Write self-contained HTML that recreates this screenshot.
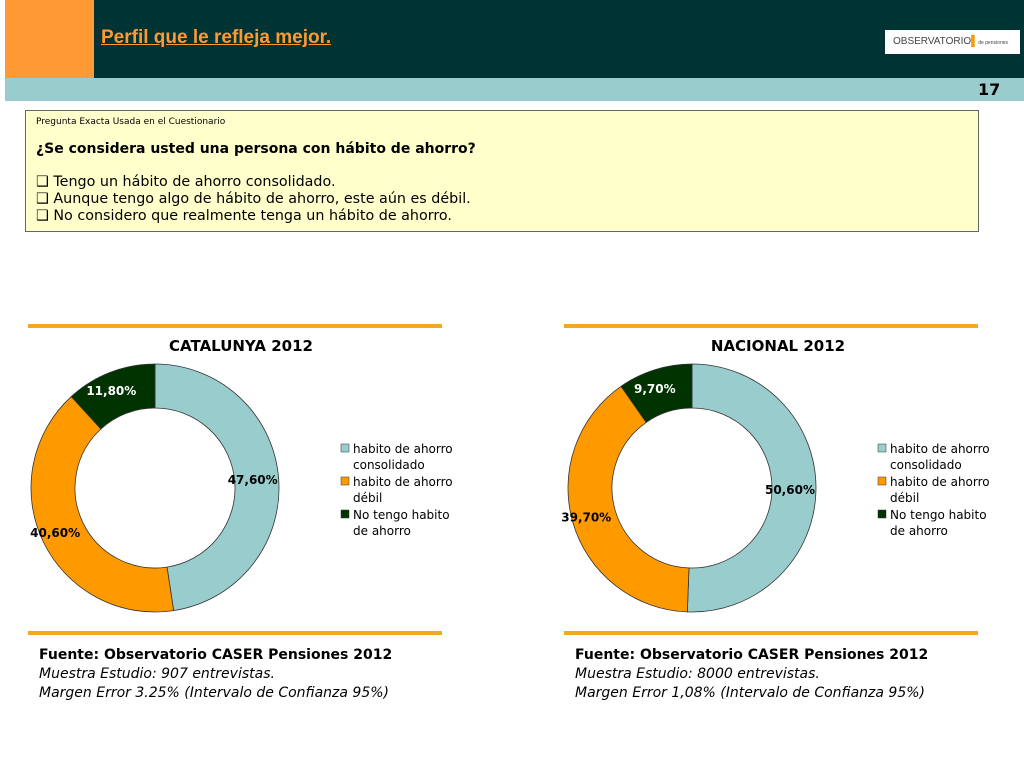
<!DOCTYPE html>
<html><head><meta charset="utf-8"><style>
body{margin:0;width:1024px;height:768px;background:#fff;position:relative;overflow:hidden;font-family:"DejaVu Sans","Liberation Sans",sans-serif;}
.abs{position:absolute;}
</style></head><body>
<div class="abs" style="left:5px;top:0;width:1019px;height:78px;background:#003333"></div>
<div class="abs" style="left:5px;top:0;width:89px;height:78px;background:#ff9933"></div>
<div class="abs" style="left:101px;top:27px;font-size:19px;font-weight:bold;color:#ff9933;text-decoration:underline;font-family:'Liberation Sans',sans-serif">Perfil que le refleja mejor.</div>
<div class="abs" style="left:885px;top:30px;width:135px;height:24px;background:#fff;font-size:10px;color:#444;line-height:24px;padding-left:8px;box-sizing:border-box;white-space:nowrap;overflow:hidden;font-family:'Liberation Sans',sans-serif">OBSERVATORIO<span style="color:#f90">▌</span><span style="font-size:5px">de pensiones</span></div>
<div class="abs" style="left:5px;top:78px;width:1019px;height:23px;background:#99cccc"></div>
<div class="abs" style="left:978px;top:80px;font-size:16px;font-weight:bold;color:#000">17</div>
<div class="abs" style="left:25px;top:110px;width:952px;height:120px;background:#ffffcc;border:1px solid #666;font-size:14.3px;color:#000">
 <div style="position:absolute;left:10px;top:6px;font-size:9px">Pregunta Exacta Usada en el Cuestionario</div>
 <div style="position:absolute;left:10px;top:30px;font-weight:bold;font-size:14px">¿Se considera usted una persona con hábito de ahorro?</div>
 <div style="position:absolute;left:10px;top:63px;line-height:17px">❑ Tengo un hábito de ahorro consolidado.<br>❑ Aunque tengo algo de hábito de ahorro, este aún es débil.<br>❑ No considero que realmente tenga un hábito de ahorro.</div>
</div>
<svg id="charts" class="abs" style="left:0;top:0" width="1024" height="768"></svg>
<div class="abs" style="left:39px;top:646px;font-size:14px;line-height:19px;color:#000"><b>Fuente: Observatorio CASER Pensiones 2012</b><br><i>Muestra Estudio: 907 entrevistas.</i><br><i>Margen Error 3.25% (Intervalo de Confianza 95%)</i></div>
<div class="abs" style="left:575px;top:646px;font-size:14px;line-height:19px;color:#000"><b>Fuente: Observatorio CASER Pensiones 2012</b><br><i>Muestra Estudio: 8000 entrevistas.</i><br><i>Margen Error 1,08% (Intervalo de Confianza 95%)</i></div>
<script>
const categories=["habito de ahorro consolidado","habito de ahorro débil","No tengo habito de ahorro"];
const catalunyaValues=[47.6,40.6,11.8];
const nacionalValues=[50.6,39.7,9.7];
const catalunyaLabels=["47,60%","40,60%","11,80%"];
const nacionalLabels=["50,60%","39,70%","9,70%"];
const colors=["#99cccc","#ff9900","#003300"];
const NS="http://www.w3.org/2000/svg";
const svg=document.getElementById('charts');
function mk(t,a){const e=document.createElementNS(NS,t);for(const k in a)e.setAttribute(k,a[k]);svg.appendChild(e);return e;}
function donut(name,title,vals,labels,cx,cy,x0,legX){
 let l=mk('rect',{x:x0,y:324,width:414,height:4,fill:'#f5a623'});
 
 
 l=mk('rect',{x:x0,y:631,width:414,height:4,fill:'#f5a623'});
 
 
 const t=mk('text',{x:cx+86,y:351,'text-anchor':'middle','font-size':15,'font-weight':'bold','font-family':'DejaVu Sans, sans-serif'});
 t.textContent=title;
 
 
 const R=124,r=80,tot=vals.reduce((a,b)=>a+b,0);let acc=0;
 vals.forEach((v,i)=>{
  const a0=acc/tot*2*Math.PI,a1=(acc+v)/tot*2*Math.PI;acc+=v;
  const p=(a,rr)=>[cx+rr*Math.sin(a),cy-rr*Math.cos(a)];
  const big=(a1-a0)>Math.PI?1:0;
  const [x1,y1]=p(a0,R),[x2,y2]=p(a1,R),[x3,y3]=p(a1,r),[x4,y4]=p(a0,r);
  const s=mk('path',{d:`M${x1},${y1}A${R},${R} 0 ${big} 1 ${x2},${y2}L${x3},${y3}A${r},${r} 0 ${big} 0 ${x4},${y4}Z`,fill:colors[i],stroke:'#333','stroke-width':0.8});
  
  
  const am=(a0+a1)/2,[lx,ly]=p(am,104);
  const lb=mk('text',{x:lx-6,y:ly+4,'text-anchor':'middle','font-size':12,'font-weight':'bold',fill:i==2?'#fff':'#000','font-family':'DejaVu Sans, sans-serif'});
  lb.textContent=labels[i];
  
  
  const ly0=444+i*33;
  const sw=mk('rect',{x:legX,y:ly0,width:8,height:8,fill:colors[i],stroke:'#333','stroke-width':0.5});
  
  
  const words=categories[i].split(' ');const split=3;
  const lines=[words.slice(0,split).join(' '),words.slice(split).join(' ')];
  lines.forEach((ln,j)=>{
   const tx=mk('text',{x:legX+12,y:ly0+9+j*16,'font-size':12,fill:'#000','font-family':'DejaVu Sans, sans-serif'});
   tx.textContent=ln;
   
   
  });
 });
}
donut('catalunya','CATALUNYA 2012',catalunyaValues,catalunyaLabels,155,488,28,341);
donut('nacional','NACIONAL 2012',nacionalValues,nacionalLabels,692,488,564,878);
</script>
</body></html>
